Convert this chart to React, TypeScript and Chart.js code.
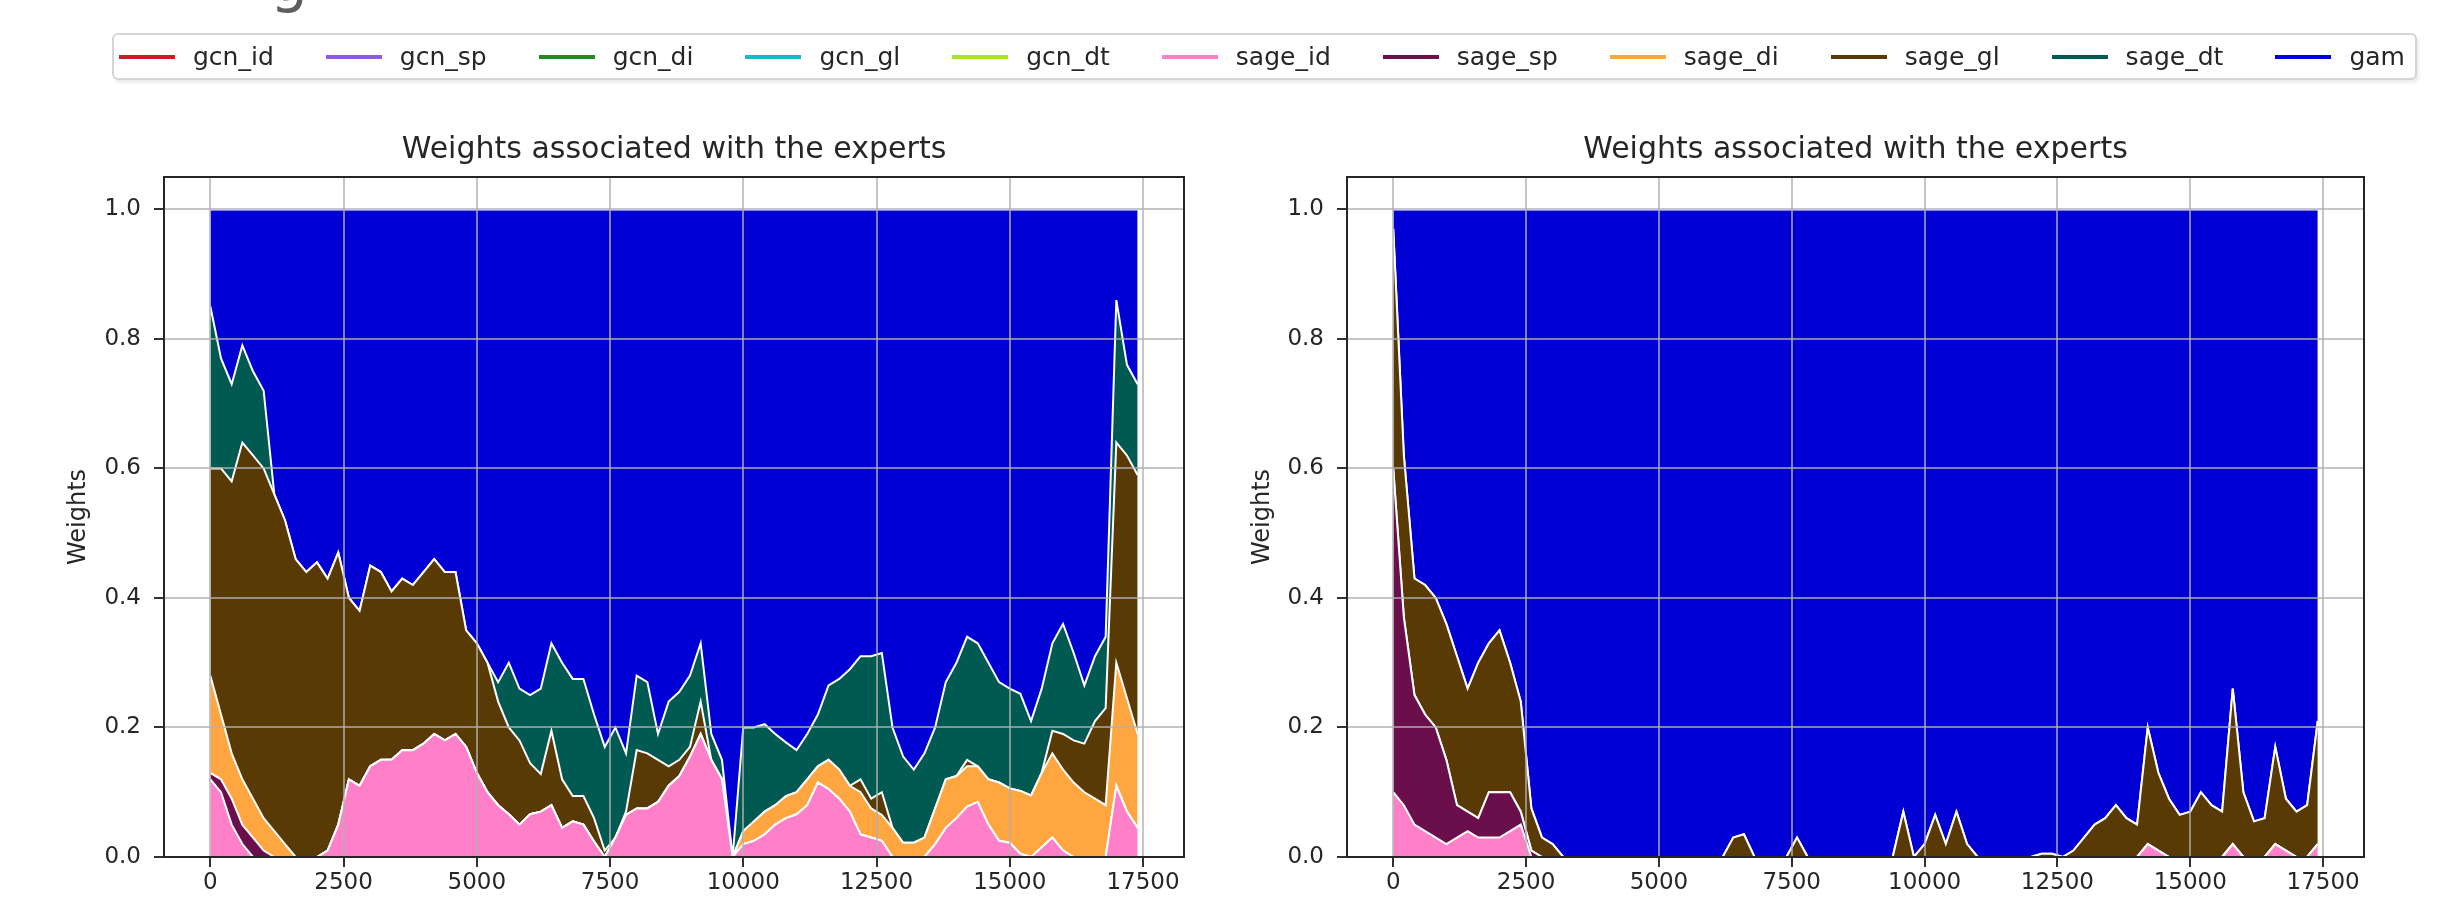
import React, { useEffect, useRef } from 'react';
import { Chart, registerables } from 'chart.js';

Chart.register(...registerables);

// ---------- data ----------
const X_VALUES = [
  0, 200, 400, 600, 800, 1000, 1200, 1400, 1600, 1800,
  2000, 2200, 2400, 2600, 2800, 3000, 3200, 3400, 3600, 3800,
  4000, 4200, 4400, 4600, 4800, 5000, 5200, 5400, 5600, 5800,
  6000, 6200, 6400, 6600, 6800, 7000, 7200, 7400, 7600, 7800,
  8000, 8200, 8400, 8600, 8800, 9000, 9200, 9400, 9600, 9800,
  10000, 10200, 10400, 10600, 10800, 11000, 11200, 11400, 11600, 11800,
  12000, 12200, 12400, 12600, 12800, 13000, 13200, 13400, 13600, 13800,
  14000, 14200, 14400, 14600, 14800, 15000, 15200, 15400, 15600, 15800,
  16000, 16200, 16400, 16600, 16800, 17000, 17200, 17400,
];

const X_TICKS = [0, 2500, 5000, 7500, 10000, 12500, 15000, 17500];
const Y_TICKS = [0, 0.2, 0.4, 0.6, 0.8, 1.0];

const SERIES_NAMES = [
  'gcn_id', 'gcn_sp', 'gcn_di', 'gcn_gl', 'gcn_dt',
  'sage_id', 'sage_sp', 'sage_di', 'sage_gl', 'sage_dt', 'gam',
];
const SERIES_COLORS = [
  '#c81e28', '#8e5ae8', '#238b23', '#1fb4c9', '#a6e22e',
  '#ff80c8', '#6b0f4c', '#ffa640', '#5a3a04', '#005a52', '#0000d4',
];

const TITLE = 'Weights associated with the experts';
const Y_LABEL = 'Weights';

const ZEROS = [
  0, 0, 0, 0, 0, 0, 0, 0, 0, 0,
  0, 0, 0, 0, 0, 0, 0, 0, 0, 0,
  0, 0, 0, 0, 0, 0, 0, 0, 0, 0,
  0, 0, 0, 0, 0, 0, 0, 0, 0, 0,
  0, 0, 0, 0, 0, 0, 0, 0, 0, 0,
  0, 0, 0, 0, 0, 0, 0, 0, 0, 0,
  0, 0, 0, 0, 0, 0, 0, 0, 0, 0,
  0, 0, 0, 0, 0, 0, 0, 0, 0, 0,
  0, 0, 0, 0, 0, 0, 0, 0,
];

// left panel
const L_SAGE_ID = [
  0.12, 0.10, 0.05, 0.02, 0, 0, 0, 0, 0, 0,
  0, 0.01, 0.05, 0.12, 0.11, 0.14, 0.15, 0.15, 0.165, 0.165,
  0.175, 0.19, 0.18, 0.19, 0.17, 0.13, 0.10, 0.08, 0.066, 0.05,
  0.066, 0.07, 0.08, 0.045, 0.055, 0.05, 0.024, 0, 0.03, 0.065,
  0.075, 0.075, 0.085, 0.11, 0.125, 0.155, 0.19, 0.15, 0.12, 0,
  0.02, 0.025, 0.035, 0.05, 0.06, 0.066, 0.08, 0.115, 0.105, 0.09,
  0.07, 0.035, 0.03, 0.025, 0, 0, 0, 0, 0.02, 0.045,
  0.06, 0.078, 0.085, 0.05, 0.025, 0.022, 0.005, 0, 0.015, 0.03,
  0.01, 0, 0, 0, 0, 0.11, 0.07, 0.045,
];
const L_SAGE_SP = [
  0.01, 0.02, 0.04, 0.03, 0.03, 0.01, 0, 0, 0, 0,
  0, 0, 0, 0, 0, 0, 0, 0, 0, 0,
  0, 0, 0, 0, 0, 0, 0, 0, 0, 0,
  0, 0, 0, 0, 0, 0, 0, 0, 0, 0,
  0, 0, 0, 0, 0, 0, 0, 0, 0, 0,
  0, 0, 0, 0, 0, 0, 0, 0, 0, 0,
  0, 0, 0, 0, 0, 0, 0, 0, 0, 0,
  0, 0, 0, 0, 0, 0, 0, 0, 0, 0,
  0, 0, 0, 0, 0, 0, 0, 0,
];
const L_SAGE_DI = [
  0.15, 0.10, 0.07, 0.07, 0.06, 0.05, 0.04, 0.02, 0, 0,
  0, 0, 0, 0, 0, 0, 0, 0, 0, 0,
  0, 0, 0, 0, 0, 0, 0, 0, 0, 0,
  0, 0, 0, 0, 0, 0, 0, 0, 0, 0,
  0, 0, 0, 0, 0, 0, 0, 0, 0, 0,
  0.02, 0.03, 0.035, 0.03, 0.034, 0.034, 0.04, 0.025, 0.045, 0.045,
  0.04, 0.065, 0.045, 0.04, 0.045, 0.022, 0.022, 0.03, 0.055, 0.075,
  0.065, 0.062, 0.055, 0.07, 0.09, 0.084, 0.097, 0.095, 0.115, 0.13,
  0.125, 0.115, 0.10, 0.09, 0.08, 0.19, 0.175, 0.145,
];
const L_SAGE_GL = [
  0.32, 0.38, 0.42, 0.52, 0.53, 0.54, 0.52, 0.50, 0.46, 0.44,
  0.455, 0.42, 0.42, 0.28, 0.27, 0.31, 0.29, 0.26, 0.265, 0.255,
  0.265, 0.27, 0.26, 0.25, 0.18, 0.20, 0.20, 0.16, 0.134, 0.13,
  0.079, 0.058, 0.115, 0.075, 0.039, 0.044, 0.036, 0.01, 0, 0.005,
  0.09, 0.085, 0.065, 0.03, 0.025, 0.015, 0.05, 0, 0, 0,
  0, 0, 0, 0, 0, 0, 0, 0, 0, 0,
  0, 0.02, 0.015, 0.035, 0, 0, 0, 0, 0, 0,
  0, 0.01, 0, 0, 0, 0, 0, 0, 0, 0.035,
  0.055, 0.065, 0.075, 0.12, 0.15, 0.34, 0.375, 0.40,
];
const L_SAGE_DT = [
  0.25, 0.17, 0.15, 0.15, 0.13, 0.12, 0, 0, 0, 0,
  0, 0, 0, 0, 0, 0, 0, 0, 0, 0,
  0, 0, 0, 0, 0, 0, 0, 0.03, 0.10, 0.08,
  0.105, 0.132, 0.135, 0.18, 0.181, 0.181, 0.16, 0.16, 0.17, 0.09,
  0.115, 0.11, 0.04, 0.10, 0.105, 0.11, 0.09, 0.04, 0.03, 0,
  0.16, 0.145, 0.135, 0.11, 0.083, 0.065, 0.07, 0.08, 0.115, 0.14,
  0.18, 0.19, 0.22, 0.215, 0.155, 0.133, 0.113, 0.13, 0.125, 0.15,
  0.175, 0.19, 0.19, 0.18, 0.155, 0.154, 0.15, 0.115, 0.13, 0.135,
  0.17, 0.135, 0.09, 0.10, 0.11, 0.22, 0.14, 0.14,
];
const L_GAM = [
  0.15, 0.23, 0.27, 0.21, 0.25, 0.28, 0.44, 0.48, 0.54, 0.56,
  0.545, 0.57, 0.53, 0.60, 0.62, 0.55, 0.56, 0.59, 0.57, 0.58,
  0.56, 0.54, 0.56, 0.56, 0.65, 0.67, 0.70, 0.73, 0.70, 0.74,
  0.75, 0.74, 0.67, 0.70, 0.725, 0.725, 0.78, 0.83, 0.80, 0.84,
  0.72, 0.73, 0.81, 0.76, 0.745, 0.72, 0.67, 0.81, 0.85, 1,
  0.80, 0.80, 0.795, 0.81, 0.823, 0.835, 0.81, 0.78, 0.735, 0.725,
  0.71, 0.69, 0.69, 0.685, 0.80, 0.845, 0.865, 0.84, 0.80, 0.73,
  0.70, 0.66, 0.67, 0.70, 0.73, 0.74, 0.748, 0.79, 0.74, 0.67,
  0.64, 0.685, 0.735, 0.69, 0.66, 0.14, 0.24, 0.27,
];

// right panel
const R_SAGE_ID = [
  0.10, 0.08, 0.05, 0.04, 0.03, 0.02, 0.03, 0.04, 0.03, 0.03,
  0.03, 0.04, 0.05, 0, 0, 0, 0, 0, 0, 0,
  0, 0, 0, 0, 0, 0, 0, 0, 0, 0,
  0, 0, 0, 0, 0, 0, 0, 0, 0, 0,
  0, 0, 0, 0, 0, 0, 0, 0, 0, 0,
  0, 0, 0, 0, 0, 0, 0, 0, 0, 0,
  0, 0, 0, 0, 0, 0, 0, 0, 0, 0,
  0, 0.02, 0.01, 0, 0, 0, 0, 0, 0, 0.02,
  0, 0, 0, 0.02, 0.01, 0, 0, 0.02,
];
const R_SAGE_SP = [
  0.50, 0.29, 0.20, 0.18, 0.17, 0.13, 0.05, 0.03, 0.03, 0.07,
  0.07, 0.06, 0.02, 0.01, 0, 0, 0, 0, 0, 0,
  0, 0, 0, 0, 0, 0, 0, 0, 0, 0,
  0, 0, 0, 0, 0, 0, 0, 0, 0, 0,
  0, 0, 0, 0, 0, 0, 0, 0, 0, 0,
  0, 0, 0, 0, 0, 0, 0, 0, 0, 0,
  0, 0, 0, 0, 0, 0, 0, 0, 0, 0,
  0, 0, 0, 0, 0, 0, 0, 0, 0, 0,
  0, 0, 0, 0, 0, 0, 0, 0,
];
const R_SAGE_GL = [
  0.37, 0.25, 0.18, 0.20, 0.20, 0.21, 0.23, 0.19, 0.24, 0.23,
  0.25, 0.20, 0.17, 0.065, 0.03, 0.02, 0, 0, 0, 0,
  0, 0, 0, 0, 0, 0, 0, 0, 0, 0,
  0, 0, 0.03, 0.035, 0, 0, 0, 0, 0.03, 0,
  0, 0, 0, 0, 0, 0, 0, 0, 0.07, 0,
  0.02, 0.065, 0.02, 0.07, 0.02, 0, 0, 0, 0, 0,
  0, 0.005, 0.005, 0, 0.01, 0.03, 0.05, 0.06, 0.08, 0.06,
  0.05, 0.18, 0.12, 0.09, 0.065, 0.07, 0.10, 0.08, 0.07, 0.24,
  0.10, 0.055, 0.06, 0.15, 0.08, 0.07, 0.08, 0.19,
];
const R_GAM = [
  0.03, 0.38, 0.57, 0.58, 0.60, 0.64, 0.69, 0.74, 0.70, 0.67,
  0.65, 0.70, 0.76, 0.925, 0.97, 0.98, 1, 1, 1, 1,
  1, 1, 1, 1, 1, 1, 1, 1, 1, 1,
  1, 1, 0.97, 0.965, 1, 1, 1, 1, 0.97, 1,
  1, 1, 1, 1, 1, 1, 1, 1, 0.93, 1,
  0.98, 0.935, 0.98, 0.93, 0.98, 1, 1, 1, 1, 1,
  1, 0.995, 0.995, 1, 0.99, 0.97, 0.95, 0.94, 0.92, 0.94,
  0.95, 0.80, 0.87, 0.91, 0.935, 0.93, 0.90, 0.92, 0.93, 0.74,
  0.90, 0.945, 0.94, 0.83, 0.91, 0.93, 0.92, 0.79,
];

const LEFT_SERIES = [
  ZEROS, ZEROS, ZEROS, ZEROS, ZEROS,
  L_SAGE_ID, L_SAGE_SP, L_SAGE_DI, L_SAGE_GL, L_SAGE_DT, L_GAM,
];
const RIGHT_SERIES = [
  ZEROS, ZEROS, ZEROS, ZEROS, ZEROS,
  R_SAGE_ID, R_SAGE_SP, ZEROS, R_SAGE_GL, ZEROS, R_GAM,
];

// ---------- styling ----------
const FONT = "'DejaVu Sans', 'Noto Sans', sans-serif";
const TEXT = '#262626';
const GRID = 'rgba(176,176,176,0.72)';

const framePlugin = {
  id: 'frame',
  afterDraw(chart: any) {
    const { ctx, chartArea: a } = chart;
    ctx.save();
    ctx.strokeStyle = '#262626';
    ctx.lineWidth = 2;
    ctx.strokeRect(a.left, a.top, a.right - a.left, a.bottom - a.top);
    ctx.restore();
  },
};

function buildConfig(series: number[][], yWidth: number, padRight: number, yTitlePad: number) {
  return {
    type: 'line',
    data: {
      datasets: SERIES_NAMES.map((name, k) => ({
        label: name,
        data: X_VALUES.map((x, i) => ({ x, y: series[k][i] })),
        backgroundColor: SERIES_COLORS[k],
        borderColor: '#ffffff',
        borderWidth: 2,
        pointRadius: 0,
        pointHoverRadius: 0,
        tension: 0,
        fill: k === 0 ? 'origin' : '-1',
      })),
    },
    options: {
      responsive: false,
      animation: false,
      devicePixelRatio: 1,
      events: [],
      layout: { padding: { left: 0, right: padRight, top: 0, bottom: 0 } },
      plugins: {
        legend: { display: false },
        tooltip: { enabled: false },
        title: {
          display: true,
          text: TITLE,
          fullSize: false,
          color: TEXT,
          font: { family: FONT, size: 30, weight: 'normal' },
          padding: { top: 132, bottom: 9 },
        },
      },
      scales: {
        x: {
          type: 'linear',
          min: -870,
          max: 18270,
          afterBuildTicks: (s: any) => {
            s.ticks = X_TICKS.map((v) => ({ value: v }));
          },
          afterFit: (s: any) => {
            s.height = 41;
          },
          grid: {
            z: 1,
            color: GRID,
            lineWidth: 2,
            drawTicks: true,
            tickLength: 10,
            tickColor: '#333333',
            tickWidth: 2,
          },
          border: { display: false },
          ticks: {
            z: 1,
            color: TEXT,
            font: { family: FONT, size: 23 },
            padding: 2,
            maxRotation: 0,
            autoSkip: false,
            callback: (v: any) => String(v),
          },
        },
        y: {
          type: 'linear',
          stacked: true,
          min: 0,
          max: 1.05,
          afterBuildTicks: (s: any) => {
            s.ticks = Y_TICKS.map((v) => ({ value: v }));
          },
          afterFit: (s: any) => {
            s.width = yWidth;
          },
          grid: {
            z: 1,
            color: GRID,
            lineWidth: 2,
            drawTicks: true,
            tickLength: 10,
            tickColor: '#333333',
            tickWidth: 2,
          },
          border: { display: false },
          title: {
            display: true,
            text: Y_LABEL,
            color: TEXT,
            font: { family: FONT, size: 24 },
            padding: { top: yTitlePad, bottom: 0 },
          },
          ticks: {
            z: 1,
            color: TEXT,
            font: { family: FONT, size: 23 },
            padding: 13,
            autoSkip: false,
            callback: (v: any) => Number(v).toFixed(1),
          },
        },
      },
    },
    plugins: [framePlugin],
  } as any;
}

export default function App() {
  const leftRef = useRef<HTMLCanvasElement | null>(null);
  const rightRef = useRef<HTMLCanvasElement | null>(null);

  useEffect(() => {
    const left = new Chart(leftRef.current as HTMLCanvasElement, buildConfig(LEFT_SERIES, 164, 41, 64.6));
    const right = new Chart(rightRef.current as HTMLCanvasElement, buildConfig(RIGHT_SERIES, 122, 87, 23.6));
    return () => {
      left.destroy();
      right.destroy();
    };
  }, []);

  return (
    <div
      style={{
        position: 'fixed',
        left: 0,
        top: 0,
        width: 2451,
        height: 898,
        background: '#ffffff',
        overflow: 'hidden',
        fontFamily: FONT,
      }}
    >
      <div style={{ position: 'absolute', left: 0, top: 0, width: 1225, height: 898 }}>
        <canvas ref={leftRef} width={1225} height={898} style={{ display: 'block' }} />
      </div>
      <div style={{ position: 'absolute', left: 1225, top: 0, width: 1226, height: 898 }}>
        <canvas ref={rightRef} width={1226} height={898} style={{ display: 'block' }} />
      </div>
      <div
        style={{
          position: 'absolute',
          left: 270,
          top: -51,
          fontSize: 60,
          lineHeight: '60px',
          color: '#5f5f5f',
          fontFamily: FONT,
        }}
      >
        g
      </div>
      <div
        style={{
          position: 'absolute',
          left: 112,
          top: 33,
          width: 2305,
          height: 47,
          boxSizing: 'border-box',
          border: '2px solid #d4d4d4',
          borderRadius: 6,
          background: '#ffffff',
          boxShadow: '2px 3px 3px rgba(0,0,0,0.08)',
          display: 'flex',
          alignItems: 'center',
          paddingLeft: 5,
        }}
      >
        {SERIES_NAMES.map((name, k) => (
          <div
            key={name}
            style={{
              display: 'flex',
              alignItems: 'center',
              marginRight: k === SERIES_NAMES.length - 1 ? 0 : 52,
            }}
          >
            <span
              style={{
                display: 'inline-block',
                width: 56,
                height: 4,
                background: SERIES_COLORS[k],
                marginRight: 18,
              }}
            />
            <span style={{ fontSize: 25, color: TEXT, fontFamily: FONT, whiteSpace: 'nowrap' }}>{name}</span>
          </div>
        ))}
      </div>
    </div>
  );
}
